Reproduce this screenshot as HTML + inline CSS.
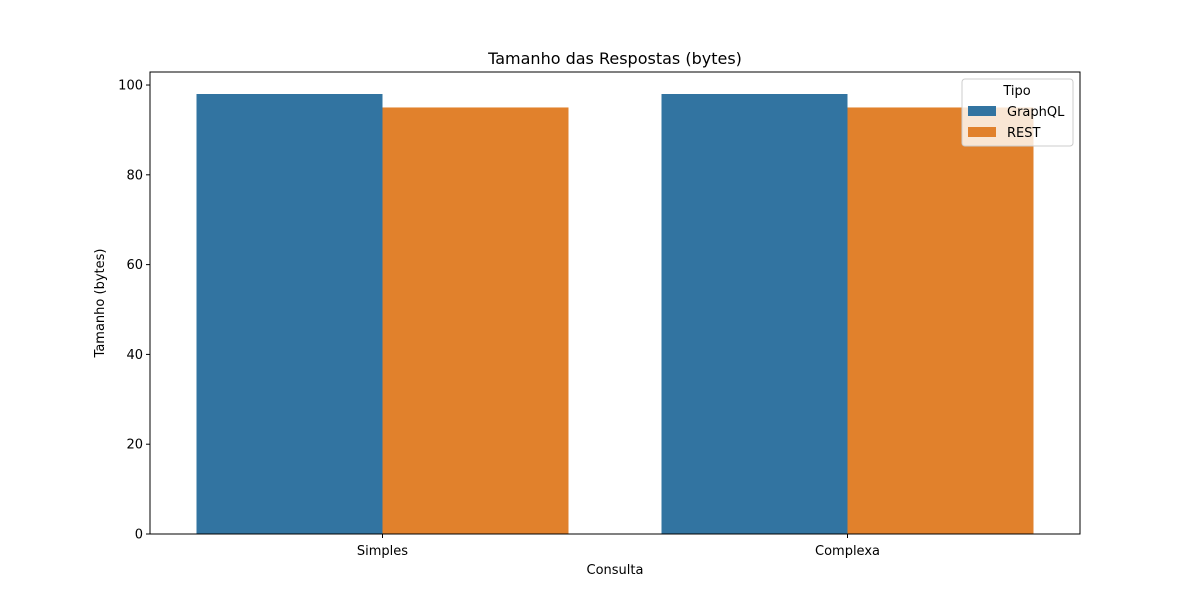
<!DOCTYPE html>
<html><head><meta charset="utf-8"><style>
body{margin:0;background:#fff;}
svg text{font-family:"DejaVu Sans","Liberation Sans",sans-serif;fill:#000;}
</style></head><body>
<svg id="chart" width="1200" height="600">
<rect width="1200" height="600" fill="#fff"/>
<text x="615" y="64" font-size="16" text-anchor="middle">Tamanho das Respostas (bytes)</text>
<g id="bars"></g>
<g id="axes"></g>
<rect x="150" y="72" width="930" height="462" fill="none" stroke="#000" stroke-width="1"/>
<text x="615" y="574" font-size="13" text-anchor="middle">Consulta</text>
<text transform="translate(104,303) rotate(-90)" font-size="13" text-anchor="middle">Tamanho (bytes)</text>
<g>
<rect x="962" y="79" width="111" height="67" rx="3" fill="#fff" fill-opacity="0.8" stroke="#ccc"/>
<text x="1017" y="95" font-size="13" text-anchor="middle">Tipo</text>
<rect x="968" y="106" width="28" height="10" fill="#3274a1"/>
<text x="1007" y="116" font-size="13">GraphQL</text>
<rect x="968" y="127" width="28" height="10" fill="#e1812c"/>
<text x="1007" y="137" font-size="13">REST</text>
</g>
</svg>
<script>
const categories = ["Simples", "Complexa"];
const seriesNames = ["GraphQL", "REST"];
const graphqlValues = [98, 98];
const restValues = [95, 95];
const yTicks = [0, 20, 40, 60, 80, 100];

const NS = "http://www.w3.org/2000/svg";
const L = 150, R = 1080, T = 72, B = 534, yMax = 102.9;
const xScale = v => L + (v + 0.5) / 2 * (R - L);
const yScale = v => B - v / yMax * (B - T);
const bars = document.getElementById('bars');
const axes = document.getElementById('axes');
const series = [graphqlValues, restValues];
const colors = ["#3274a1", "#e1812c"];
series.forEach((vals, s) => {
  vals.forEach((v, i) => {
    const x0 = xScale(i - 0.4 + s * 0.4), x1 = xScale(i - 0.4 + (s + 1) * 0.4);
    const r = document.createElementNS(NS, 'rect');
    r.setAttribute('x', x0); r.setAttribute('width', x1 - x0);
    r.setAttribute('y', yScale(v)); r.setAttribute('height', B - yScale(v));
    r.setAttribute('fill', colors[s]);
    
    
    bars.appendChild(r);
  });
});
yTicks.forEach(t => {
  const y = yScale(t);
  const l = document.createElementNS(NS, 'line');
  l.setAttribute('x1', L - 4); l.setAttribute('x2', L); l.setAttribute('y1', y); l.setAttribute('y2', y);
  l.setAttribute('stroke', '#000');
  
  
  axes.appendChild(l);
  const tx = document.createElementNS(NS, 'text');
  tx.setAttribute('x', L - 7); tx.setAttribute('y', y + 4.5);
  tx.setAttribute('font-size', '13'); tx.setAttribute('text-anchor', 'end');
  tx.textContent = t;
  
  
  axes.appendChild(tx);
});
categories.forEach((c, i) => {
  const x = xScale(i);
  const l = document.createElementNS(NS, 'line');
  l.setAttribute('x1', x); l.setAttribute('x2', x); l.setAttribute('y1', B); l.setAttribute('y2', B + 4);
  l.setAttribute('stroke', '#000');
  
  
  axes.appendChild(l);
  const tx = document.createElementNS(NS, 'text');
  tx.setAttribute('x', x); tx.setAttribute('y', B + 21);
  tx.setAttribute('font-size', '13'); tx.setAttribute('text-anchor', 'middle');
  tx.textContent = c;
  
  
  axes.appendChild(tx);
});
</script>
</body></html>
